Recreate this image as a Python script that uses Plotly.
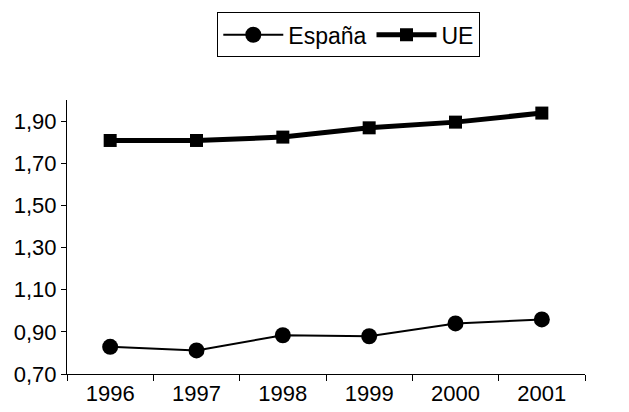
import plotly.graph_objects as go

years = ["1996", "1997", "1998", "1999", "2000", "2001"]
espana = [0.829, 0.812, 0.884, 0.879, 0.940, 0.959]
ue = [1.808, 1.808, 1.824, 1.868, 1.895, 1.938]
y_ticks = [0.70, 0.90, 1.10, 1.30, 1.50, 1.70, 1.90]

fig = go.Figure()
fig.add_trace(go.Scatter(
    x=years, y=espana, name="España", mode="lines+markers",
    line=dict(color="black", width=2),
    marker=dict(symbol="circle", size=16, color="black"),
))
fig.add_trace(go.Scatter(
    x=years, y=ue, name="UE", mode="lines+markers",
    line=dict(color="black", width=5),
    marker=dict(symbol="square", size=13, color="black"),
))

fig.update_layout(
    width=621, height=404,
    margin=dict(l=59, r=44, t=92, b=38, autoexpand=False),
    paper_bgcolor="white", plot_bgcolor="white",
    separators=",.",
    font=dict(family="Liberation Sans, Arial, sans-serif", size=22, color="black"),
    showlegend=True,
    legend=dict(
        orientation="h", x=0.544, xanchor="center", y=1.32, yanchor="top",
        bordercolor="black", borderwidth=1, itemwidth=60,
        font=dict(size=23), bgcolor="white",
        tracegroupgap=0, itemsizing="trace",
    ),
    xaxis=dict(
        type="category", range=[-0.5, 5.5],
        showline=True, linecolor="black", linewidth=1,
        ticks="outside", tickson="boundaries", ticklen=6, tickcolor="black",
        showgrid=False, zeroline=False, automargin=False,
    ),
    yaxis=dict(
        range=[0.7, 2.0], tickvals=y_ticks, tickformat=".2f",
        showline=True, linecolor="black", linewidth=1,
        ticks="outside", ticklen=5, tickcolor="black",
        showgrid=False, zeroline=False, automargin=False,
    ),
)

fig.write_html("out.html")
